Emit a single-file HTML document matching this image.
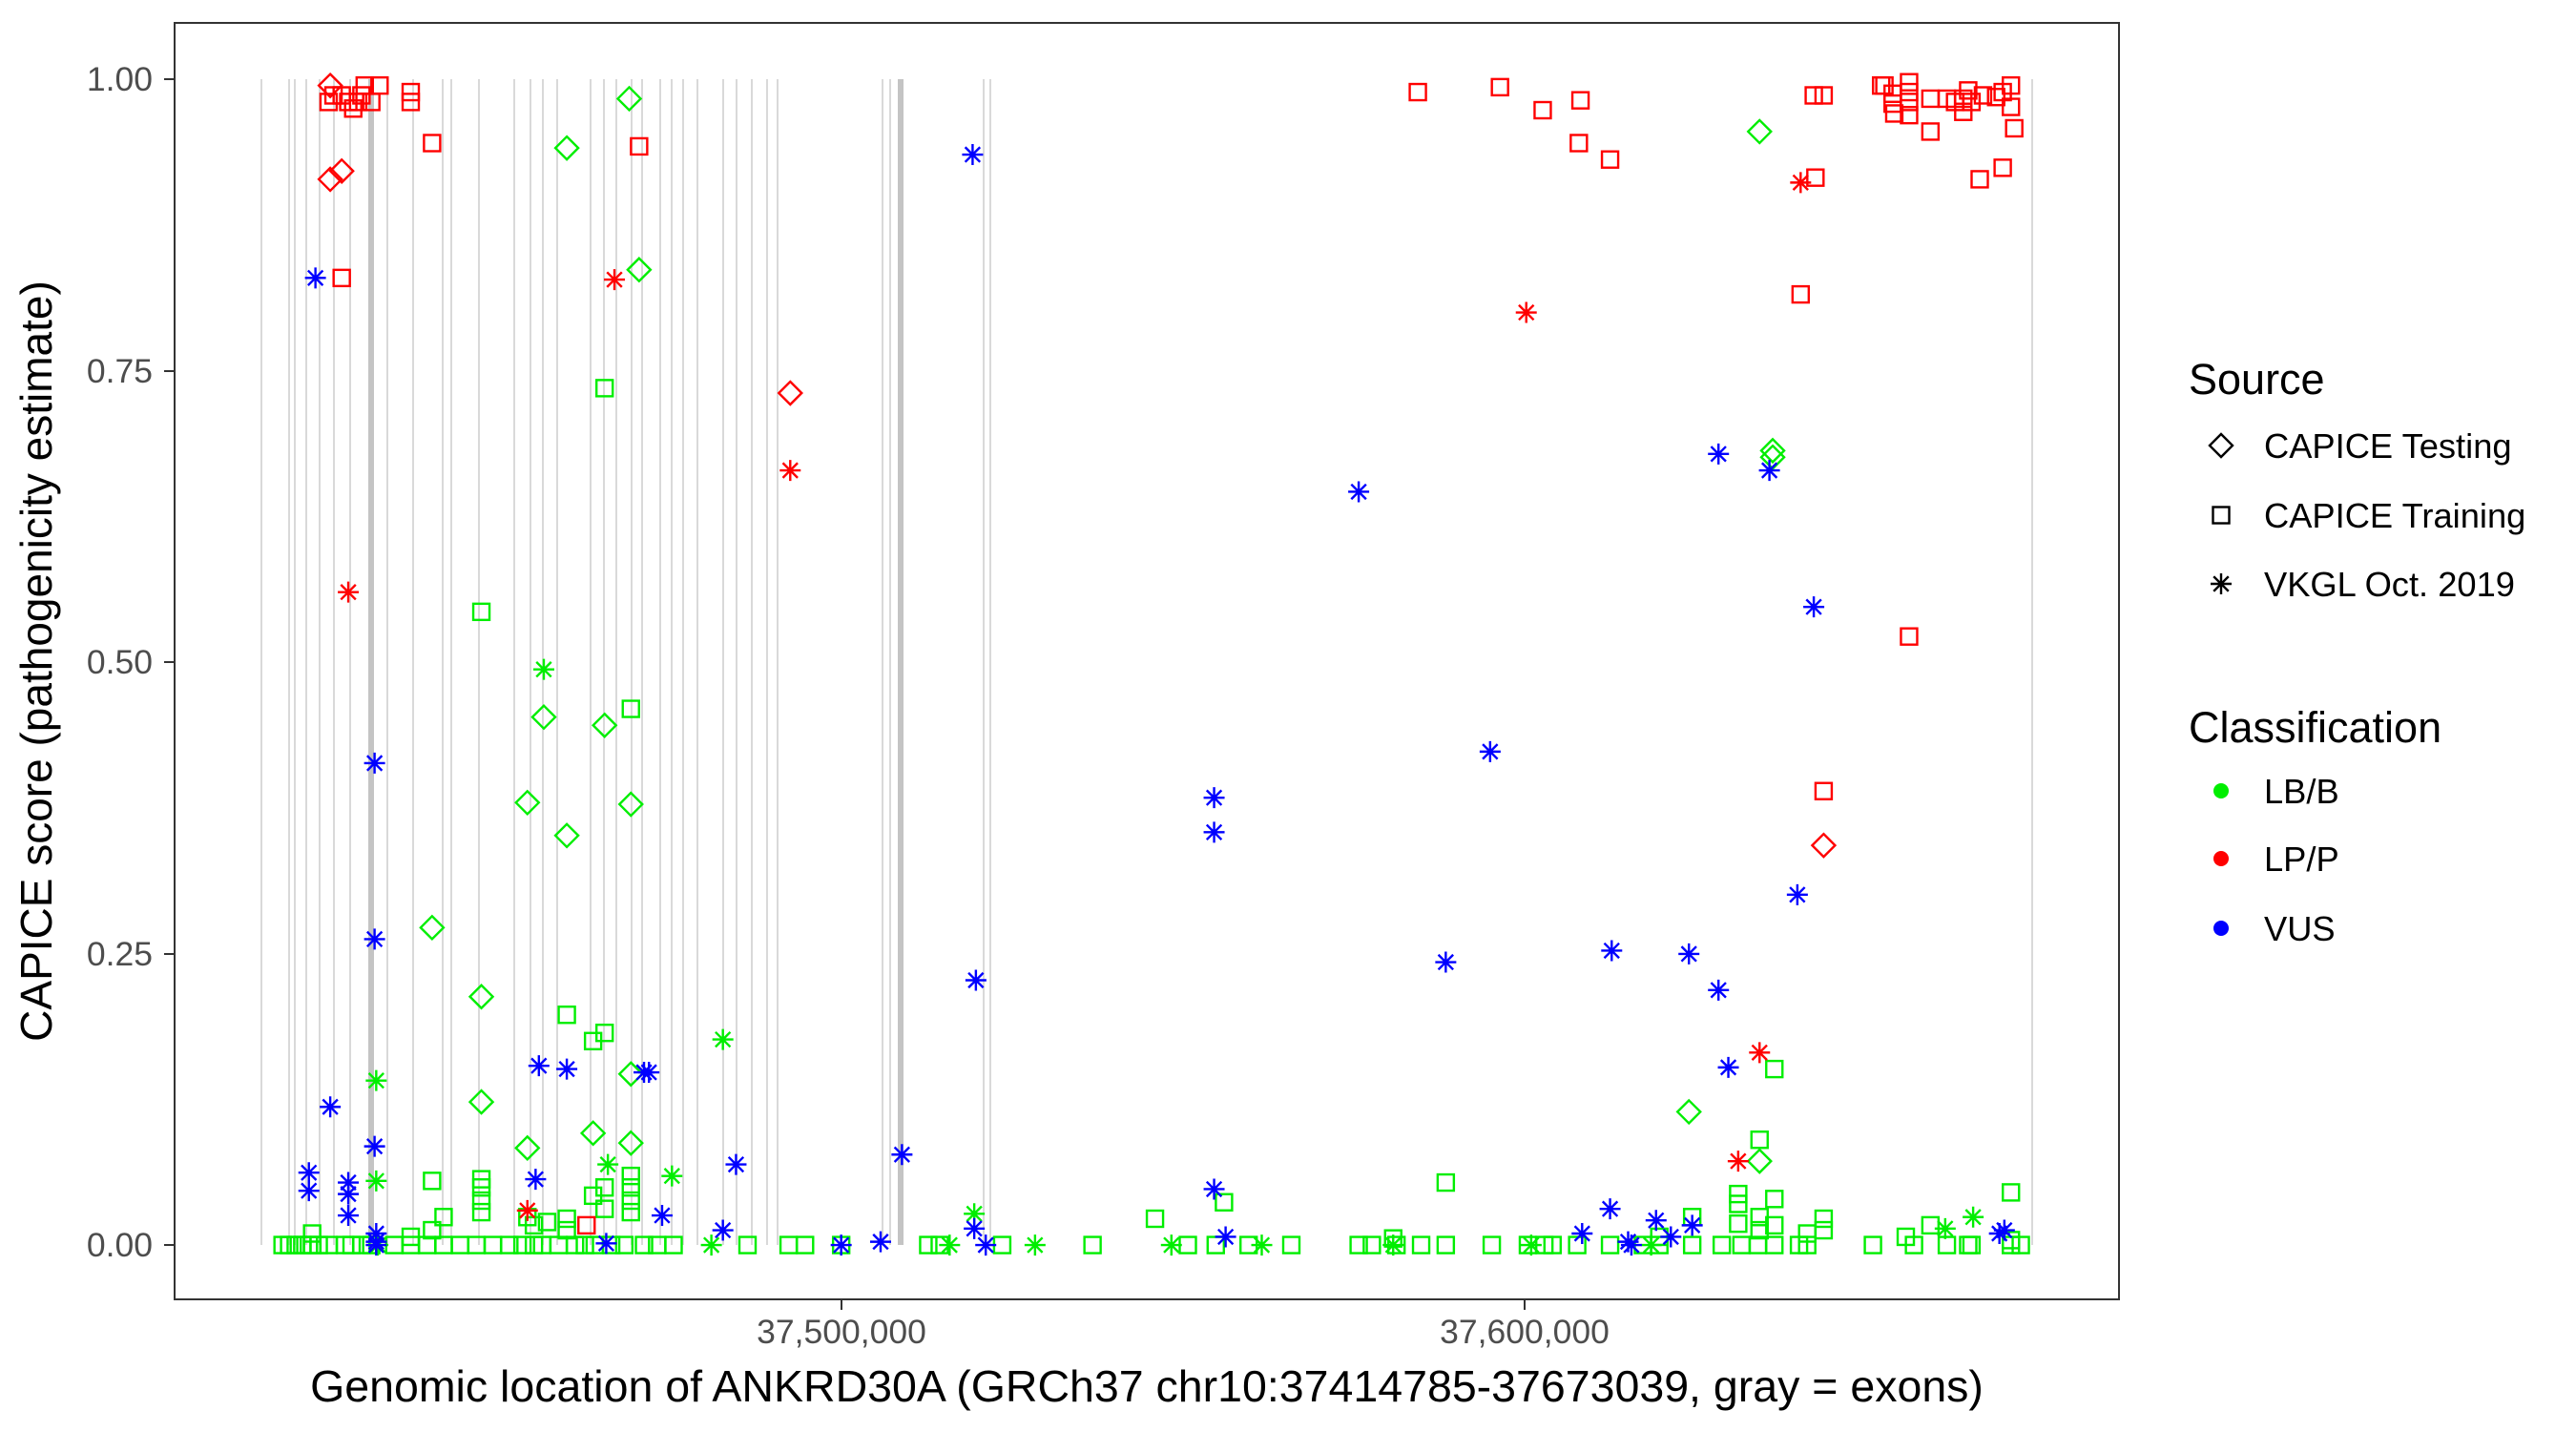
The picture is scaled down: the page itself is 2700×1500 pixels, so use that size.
<!DOCTYPE html>
<html><head><meta charset="utf-8"><style>
html,body{margin:0;padding:0;background:#fff;}
svg{display:block;font-family:"Liberation Sans",Arial,sans-serif;}
</style></head><body>
<svg id="s" width="2700" height="1500" xmlns="http://www.w3.org/2000/svg">
<rect x="0" y="0" width="2700" height="1500" fill="#fff"/>
<g id="ex"></g>
<g id="pts"></g>
<rect x="183" y="24" width="2038" height="1338" fill="none" stroke="#333" stroke-width="2"/>
<g fill="#4d4d4d" font-size="35.5" text-anchor="end">
<text x="160" y="95">1.00</text>
<text x="160" y="401">0.75</text>
<text x="160" y="706">0.50</text>
<text x="160" y="1012">0.25</text>
<text x="160" y="1317">0.00</text>
</g>
<g stroke="#333" stroke-width="2">
<line x1="172" y1="83" x2="183" y2="83"/><line x1="172" y1="389" x2="183" y2="389"/><line x1="172" y1="694" x2="183" y2="694"/><line x1="172" y1="1000" x2="183" y2="1000"/><line x1="172" y1="1305" x2="183" y2="1305"/>
<line x1="882" y1="1362" x2="882" y2="1373"/><line x1="1598" y1="1362" x2="1598" y2="1373"/>
</g>
<g fill="#4d4d4d" font-size="35.5" text-anchor="middle">
<text x="882" y="1408">37,500,000</text>
<text x="1598" y="1408">37,600,000</text>
</g>
<text x="1202" y="1469" font-size="46.5" text-anchor="middle" fill="#000">Genomic location of ANKRD30A (GRCh37 chr10:37414785-37673039, gray = exons)</text>
<text transform="translate(54,693) rotate(-90)" font-size="46" text-anchor="middle" fill="#000">CAPICE score (pathogenicity estimate)</text>
<text x="2294" y="413" font-size="45" fill="#000">Source</text>
<text x="2294" y="778" font-size="45" fill="#000">Classification</text>
<g font-size="36.3" fill="#000">
<text x="2373" y="480">CAPICE Testing</text>
<text x="2373" y="553">CAPICE Training</text>
<text x="2373" y="625">VKGL Oct. 2019</text>
<text x="2373" y="842">LB/B</text>
<text x="2373" y="913">LP/P</text>
<text x="2373" y="986">VUS</text>
</g>
<g id="leg"></g>
</svg>
<script>
const NS="http://www.w3.org/2000/svg";
function el(t,a,p){const e=document.createElementNS(NS,t);for(const k in a)e.setAttribute(k,a[k]);p.appendChild(e);return e;}
const ex=document.getElementById('ex');
[274,303,309,321,335,350,367,406,433,464,473,502,539,556,569,584,619,633,646,662,673,692,704,716,731,758,772,788,804,815,925,933,1031,1038,2130].forEach(x=>el('line',{x1:x,y1:83,x2:x,y2:1305,stroke:'#d9d9d9','stroke-width':2},ex));
[389,944].forEach(x=>el('line',{x1:x,y1:83,x2:x,y2:1305,stroke:'#c4c4c4','stroke-width':6},ex));
const P=document.getElementById('pts');
function sq(x,y,c,g){el('rect',{x:x-8.5,y:y-8.5,width:17,height:17,fill:'none',stroke:c,'stroke-width':2.4},g);}
function di(x,y,c,g){el('polygon',{points:`${x},${y-12} ${x+12},${y} ${x},${y+12} ${x-12},${y}`,fill:'none',stroke:c,'stroke-width':2.4},g);}
function st(x,y,c,g){const r=11;let d='';for(let i=0;i<4;i++){const a=i*Math.PI/4+Math.PI/2;const dx=r*Math.cos(a),dy=r*Math.sin(a);d+=`M${x-dx},${y-dy}L${x+dx},${y+dy}`;}el('path',{d:d,stroke:c,'stroke-width':2.4,fill:'none'},g);}
const T=(a,f,c)=>a.forEach(p=>f(p[0]*1.722,p[1]*1.724,c,P));
const R='#ff0000',G='#00ee00',B='#0000ff';
const gz=[172,176,180,184,188,190,194,200,210,214,220,226,240,250,260,270,280,290,300,310,318,325,330,340,350,356,362,372,380,392,400,410,455,480,490,512,565,572,610,665,723,740,760,786,827,835,850,865,880,908,930,940,945,960,980,1000,1010,1030,1048,1060,1070,1080,1095,1100,1140,1165,1185,1198,1200,1224,1230].map(x=>[x,757]);
T(gz,sq,G);
T([[368,236],[293,372],[384,431],[345,617],[368,628],[361,633],[1080,650],[263,718],[293,717],[880,719],[1071,693],[1058,726],[1058,732],[1080,729],[1224,725],[745,731],[703,741],[1110,741],[1058,744],[1071,740],[293,722],[293,730],[293,737],[270,740],[345,741],[384,715],[384,722],[384,730],[384,737],[368,722],[368,735],[361,727],[333,743],[325,745],[321,740],[345,748],[1175,745],[1224,754],[1100,750],[1110,748],[1080,745],[1071,748],[1160,752],[1030,740],[1010,752],[848,753],[190,750],[263,748],[250,752]],sq,G);
T([[383,60],[345,90],[389,164],[1071,80],[1079,278],[1079,274],[331,436],[368,441],[321,488],[384,489],[345,508],[263,564],[293,606],[293,670],[321,698],[361,689],[384,695],[384,653],[1028,676],[1071,706]],di,G);
T([[331,407],[440,632],[229,657],[229,718],[370,708],[409,715],[593,738],[1201,740],[1184,747],[230,757],[433,757],[578,757],[630,757],[713,757],[768,757],[848,757],[932,757],[1005,757]],st,G);
T([[200,62],[203,58],[208,58],[212,62],[215,66],[218,62],[220,58],[222,52],[226,62],[231,52],[250,56],[250,62],[263,87],[208,169],[389,89],[357,745],[863,56],[913,53],[939,67],[962,61],[961,87],[980,97],[1104,58],[1110,58],[1105,108],[1096,179],[1110,481],[1162,387],[1145,52],[1147,52],[1152,57],[1152,63],[1162,50],[1162,56],[1162,62],[1162,70],[1153,69],[1175,60],[1175,80],[1185,60],[1190,62],[1195,60],[1198,55],[1200,62],[1195,68],[1207,58],[1205,109],[1219,102],[1224,52],[1224,65],[1226,78],[1219,56],[1215,59]],sq,R);
T([[201,52],[201,109],[208,104],[481,239],[1110,514]],di,R);
T([[212,360],[374,170],[481,286],[929,190],[1096,111],[1071,640],[1058,706],[321,736]],st,R);
T([[192,169],[592,94],[827,299],[228,464],[228,571],[907,457],[1046,276],[1077,286],[1104,369],[739,485],[739,506],[880,585],[594,596],[981,578],[1028,580],[1046,602],[1094,544],[1052,649],[201,673],[328,648],[345,650],[392,652],[395,652],[228,697],[549,702],[448,708],[188,713],[188,724],[212,719],[212,726],[212,739],[326,717],[403,739],[739,723],[593,747],[440,748],[229,750],[229,755],[963,750],[980,735],[991,755],[1008,742],[1030,745],[1017,752],[1217,750],[1220,748],[746,752],[369,756],[512,757],[536,755],[600,757],[993,757],[229,757]],st,B);
const L=document.getElementById('leg');
di(2328,467,'#000',L);sq(2328,540,'#000',L);st(2328,612,'#000',L);
el('circle',{cx:2328,cy:829,r:8,fill:G},L);el('circle',{cx:2328,cy:900,r:8,fill:R},L);el('circle',{cx:2328,cy:973,r:8,fill:B},L);
</script>
</body></html>
